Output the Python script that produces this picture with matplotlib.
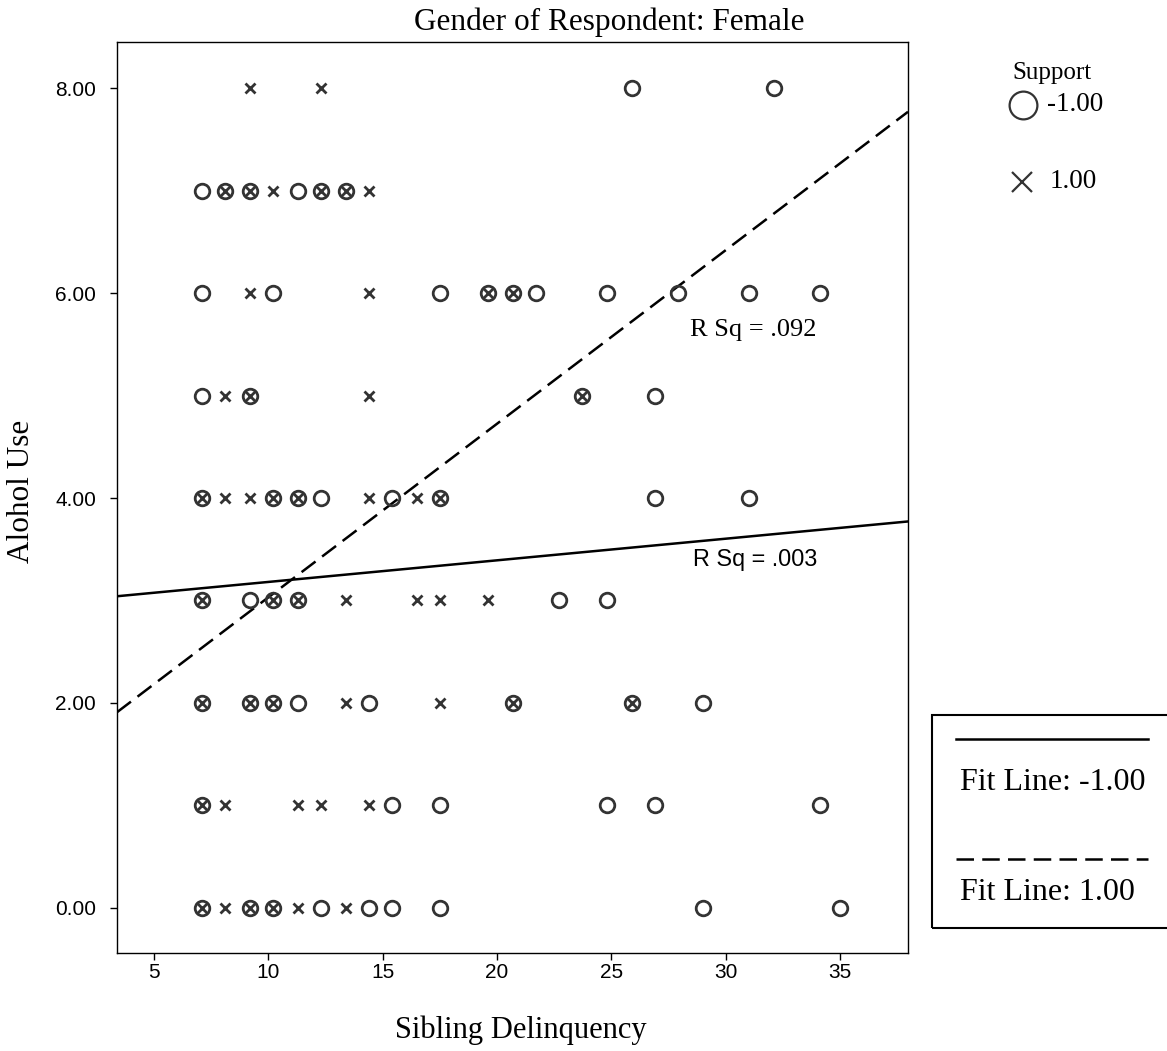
import numpy as np
import matplotlib
matplotlib.use("Agg")
from matplotlib import pyplot as plt
from matplotlib.lines import Line2D
from matplotlib.patches import Rectangle

serif = "Liberation Serif"
sans = "Liberation Sans"
ink = "#333333"

# Support = -1.00 (circles), one list per Alohol Use level
neg_rows = {
    8: [25.9, 32.1],
    7: [7.1, 8.1, 9.2, 11.3, 12.3, 13.4],
    6: [7.1, 10.2, 17.5, 19.6, 20.7, 21.7, 24.8, 27.9, 31.0, 34.1],
    5: [7.1, 9.2, 23.7, 26.9],
    4: [7.1, 10.2, 11.3, 12.3, 15.4, 17.5, 26.9, 31.0],
    3: [7.1, 9.2, 10.2, 11.3, 22.7, 24.8],
    2: [7.1, 9.2, 10.2, 11.3, 14.4, 20.7, 25.9, 29.0],
    1: [7.1, 15.4, 17.5, 24.8, 26.9, 34.1],
    0: [7.1, 9.2, 10.2, 12.3, 14.4, 15.4, 17.5, 29.0, 35.0],
}
# Support = 1.00 (crosses)
pos_rows = {
    8: [9.2, 12.3],
    7: [8.1, 9.2, 10.2, 12.3, 13.4, 14.4],
    6: [9.2, 14.4, 19.6, 20.7],
    5: [8.1, 9.2, 14.4, 23.7],
    4: [7.1, 8.1, 9.2, 10.2, 11.3, 14.4, 16.5, 17.5],
    3: [7.1, 10.2, 11.3, 13.4, 16.5, 17.5, 19.6],
    2: [7.1, 9.2, 10.2, 13.4, 17.5, 20.7, 25.9],
    1: [7.1, 8.1, 11.3, 12.3, 14.4],
    0: [7.1, 8.1, 9.2, 10.2, 11.3, 13.4],
}

# fit lines: intercept, slope
fit_neg = [2.97, 0.0211]
fit_pos = [1.337, 0.1694]
rsq_neg = "R Sq = .003"
rsq_pos = "R Sq = .092"

x_ticks = [5, 10, 15, 20, 25, 30, 35]
y_ticks = [0, 2, 4, 6, 8]

neg_x = [x for y in neg_rows for x in neg_rows[y]]
neg_y = [y for y in neg_rows for x in neg_rows[y]]
pos_x = [x for y in pos_rows for x in pos_rows[y]]
pos_y = [y for y in pos_rows for x in pos_rows[y]]

W, H = 1167, 1051
fig = plt.figure(figsize=(W / 100, H / 100), dpi=100)
ax = fig.add_axes([117 / W, 98 / H, 791 / W, 911 / H])

ax.plot(neg_x, neg_y, "o", mfc="none", mec=ink, ms=10.5, mew=2.0, zorder=3)
ax.plot(pos_x, pos_y, "x", color=ink, ms=7.5, mew=2.0, zorder=3)

ax.set_xlim(3.38, 37.97)
ax.set_ylim(-0.44, 8.45)

dash = (7, 3.3)
xs = np.array(ax.get_xlim())
ax.plot(xs, fit_neg[0] + fit_neg[1] * xs, color="black", lw=1.8, zorder=2)
ax.plot(xs, fit_pos[0] + fit_pos[1] * xs, color="black", lw=1.8,
        dashes=dash, zorder=2)

ax.text(31.2, 5.64, rsq_pos, family=serif, fontsize=19, ha="center", va="center")
ax.text(31.3, 3.40, rsq_neg, family=sans, fontsize=16.8, ha="center", va="center")

ax.set_xticks(x_ticks)
ax.set_xticklabels([str(t) for t in x_ticks], family=sans, fontsize=15)
ax.set_yticks(y_ticks)
ax.set_yticklabels(["%.2f" % t for t in y_ticks], family=sans, fontsize=15)
ax.tick_params(length=5, width=1, color="black")
ax.tick_params(axis="y", pad=10)
ax.tick_params(axis="x", pad=2)
for s in ax.spines.values():
    s.set_linewidth(1)

fig.text(609 / W, 1 - 22 / H, "Gender of Respondent: Female", family=serif,
         fontsize=22.5, ha="center", va="center")
fig.text(521 / W, 1 - 1030 / H, "Sibling Delinquency", family=serif, fontsize=22,
         ha="center", va="center")
fig.text(22 / W, 1 - 491 / H, "Alohol Use", family=serif, fontsize=22.5,
         ha="center", va="center", rotation=90)

# Support legend
fig.text(1052 / W, 1 - 73 / H, "Support", family=serif, fontsize=18,
         ha="center", va="center")
fig.add_artist(Line2D([1023 / W], [1 - 105 / H], transform=fig.transFigure,
                      marker="o", ms=20, mfc="none", mec=ink, mew=1.6, ls="none"))
fig.text(1047 / W, 1 - 105 / H, "-1.00", family=serif, fontsize=19.5, va="center")
fig.add_artist(Line2D([1022 / W], [1 - 182 / H], transform=fig.transFigure,
                      marker="x", ms=14, color=ink, mew=1.6, ls="none"))
fig.text(1050 / W, 1 - 182 / H, "1.00", family=serif, fontsize=19.5, va="center")

# Fit line legend
fig.add_artist(Rectangle((932 / W, 1 - 928 / H), (1170 - 932) / W, (928 - 715) / H,
                         transform=fig.transFigure, fill=False, ec="black", lw=1.5))
fig.add_artist(Line2D([956 / W, 1148 / W], [1 - 739 / H] * 2,
                      transform=fig.transFigure, color="black", lw=1.8))
fig.text(960 / W, 1 - 783 / H, "Fit Line: -1.00", family=serif, fontsize=23, va="center")
fig.add_artist(Line2D([956 / W, 1148 / W], [1 - 859 / H] * 2,
                      transform=fig.transFigure, color="black", lw=1.8, dashes=dash))
fig.text(960 / W, 1 - 893 / H, "Fit Line: 1.00", family=serif, fontsize=23, va="center")

fig.savefig("out.png", dpi=100)
